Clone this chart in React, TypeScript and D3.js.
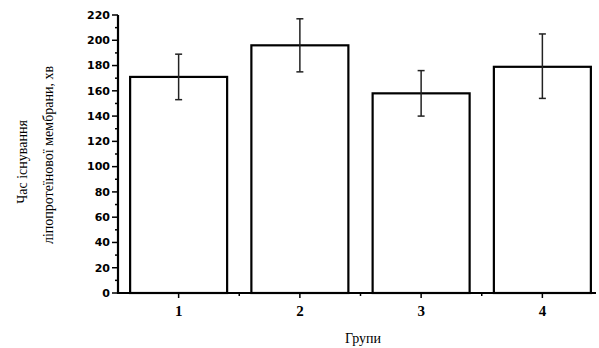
import React from 'react';
import * as d3 from 'd3';

const groups = [1, 2, 3, 4];
const means = [171, 196, 158, 179];
const errUp = [189, 217, 176, 205];
const errDown = [153, 175, 140, 154];
const yTicks = [0, 20, 40, 60, 80, 100, 120, 140, 160, 180, 200, 220];

const App = () => {
  const ref = React.useRef<SVGSVGElement>(null);

  React.useEffect(() => {
    const svg = d3.select(ref.current);
    svg.selectAll('*').remove();

    const left = 118;
    const bottom = 293;
    const top = 15;

    const x = d3.scaleLinear().domain([0.5, 4.5]).range([left, left + 485]);
    const y = d3.scaleLinear().domain([0, 220]).range([bottom, top]);
    const bw = (x(1) - x(0.5)) * 2 * 0.8;

    // bars
    svg.selectAll('rect.bar')
      .data(groups)
      .enter().append('rect')
      .attr('class', 'bar')
      .attr('x', (d) => x(d) - bw / 2)
      .attr('y', (d, i) => y(means[i]))
      .attr('width', bw)
      .attr('height', (d, i) => bottom - y(means[i]))
      .attr('fill', 'white')
      .attr('stroke', '#000')
      .attr('stroke-width', 2.2);

    // error bars
    const eb = svg.append('g').attr('stroke', '#222').attr('stroke-width', 1.5);
    groups.forEach((g, i) => {
      eb.append('line').attr('x1', x(g)).attr('x2', x(g))
        .attr('y1', y(errUp[i])).attr('y2', y(errDown[i]));
      [errUp[i], errDown[i]].forEach((v) => {
        eb.append('line').attr('x1', x(g) - 3.5).attr('x2', x(g) + 3.5)
          .attr('y1', y(v)).attr('y2', y(v));
      });
    });

    // y axis
    const ya = svg.append('g');
    ya.append('line').attr('x1', left).attr('x2', left)
      .attr('y1', y(220)).attr('y2', bottom + 1)
      .attr('stroke', '#000').attr('stroke-width', 2.2);
    d3.range(0, 221, 10).forEach((v) => {
      const major = v % 20 === 0;
      ya.append('line').attr('x1', left - (major ? 6 : 3)).attr('x2', left)
        .attr('y1', y(v)).attr('y2', y(v))
        .attr('stroke', '#000').attr('stroke-width', 1.5);
    });
    ya.selectAll('text')
      .data(yTicks)
      .enter().append('text')
      .attr('x', left - 8)
      .attr('y', (d) => y(d))
      .attr('dy', '0.35em')
      .attr('text-anchor', 'end')
      .attr('font-family', 'DejaVu Sans, sans-serif')
      .attr('font-weight', 'bold')
      .attr('font-size', 11)
      .text((d) => d);

    // x axis
    const xa = svg.append('g');
    xa.append('line').attr('x1', left - 1).attr('x2', 596)
      .attr('y1', bottom).attr('y2', bottom)
      .attr('stroke', '#000').attr('stroke-width', 2.2);
    [1, 1.5, 2, 2.5, 3, 3.5, 4].forEach((v) => {
      const major = Number.isInteger(v);
      xa.append('line').attr('x1', x(v)).attr('x2', x(v))
        .attr('y1', bottom).attr('y2', bottom + (major ? 5 : 3))
        .attr('stroke', '#000').attr('stroke-width', 1.5);
    });
    xa.selectAll('text')
      .data(groups)
      .enter().append('text')
      .attr('x', (d) => x(d))
      .attr('y', 316)
      .attr('text-anchor', 'middle')
      .attr('font-family', 'Liberation Serif, serif')
      .attr('font-weight', 'bold')
      .attr('font-size', 15)
      .text((d) => d);

    svg.append('text')
      .attr('x', 363).attr('y', 343)
      .attr('text-anchor', 'middle')
      .attr('font-family', 'Liberation Serif, serif')
      .attr('font-size', 14)
      .text('Групи');

    // y label
    svg.append('text')
      .attr('transform', 'translate(27,162) rotate(-90)')
      .attr('text-anchor', 'middle')
      .attr('font-family', 'Liberation Serif, serif')
      .attr('font-size', 14)
      .text('Час існування');
    svg.append('text')
      .attr('transform', 'translate(53,155) rotate(-90)')
      .attr('text-anchor', 'middle')
      .attr('font-family', 'Liberation Serif, serif')
      .attr('font-size', 14)
      .text('ліпопротеїнової мембрани, хв');
  }, []);

  return (
    <svg ref={ref} width={599} height={348}
      style={{ position: 'absolute', left: 0, top: 0, background: '#fff' }} />
  );
};

export default App;
